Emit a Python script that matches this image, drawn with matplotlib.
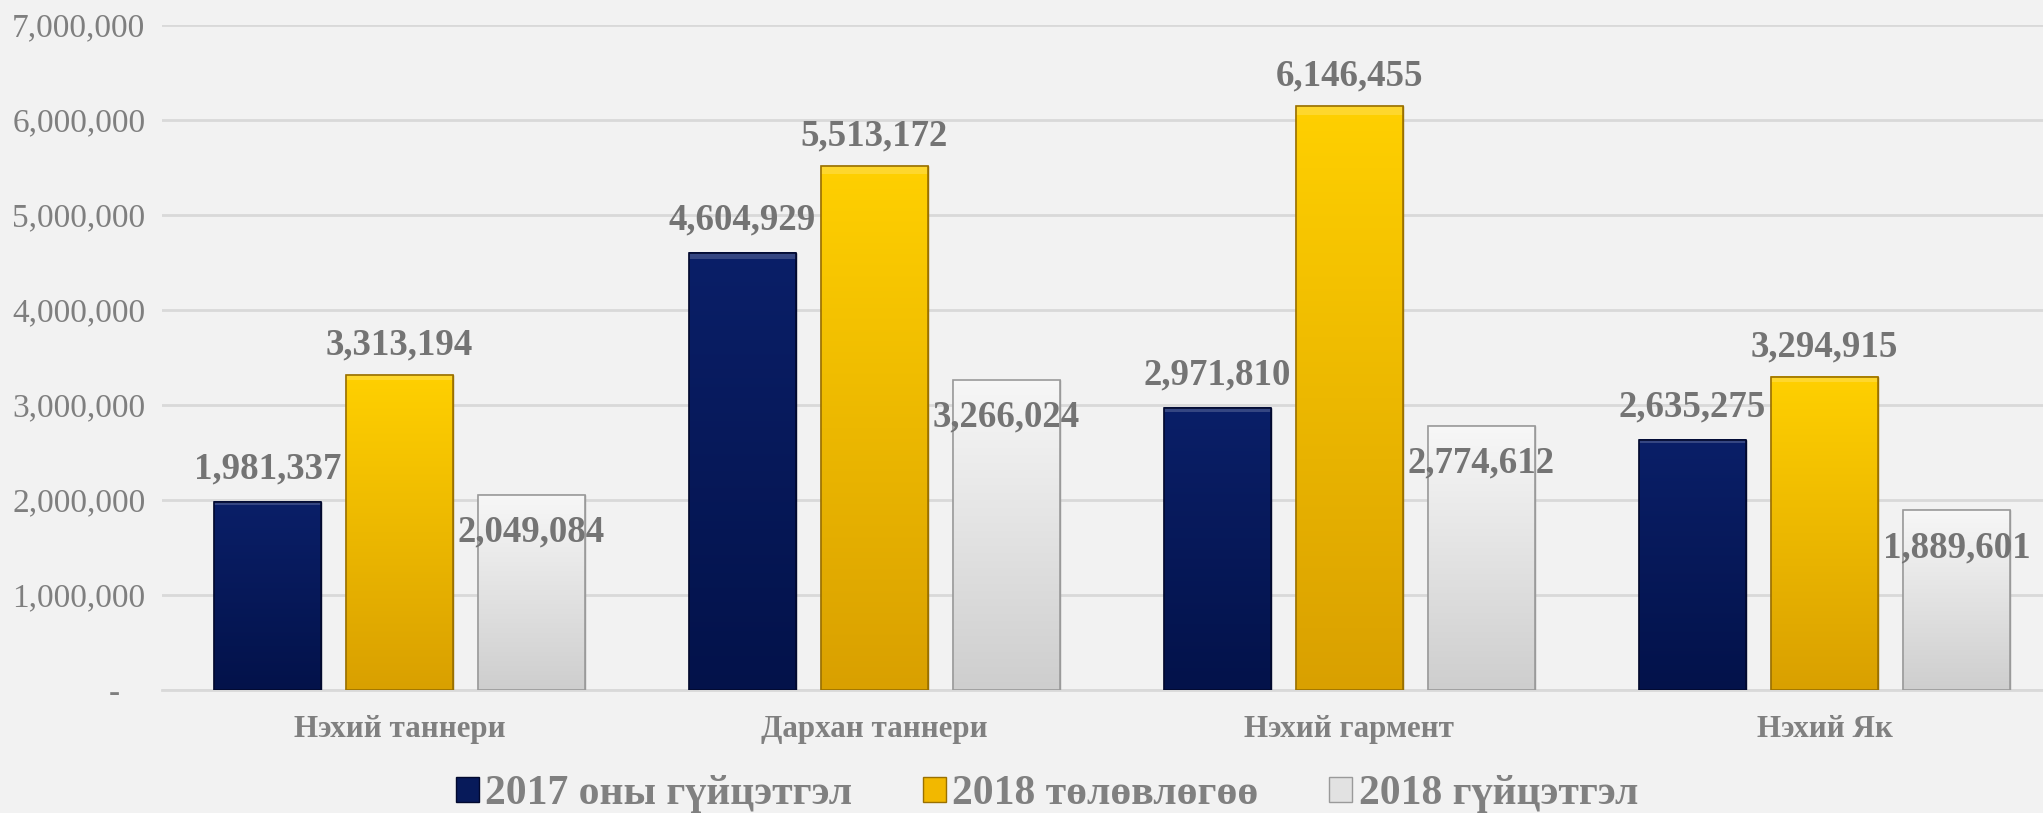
import numpy as np
import matplotlib
matplotlib.use("Agg")
import matplotlib.pyplot as plt
from matplotlib.patches import Patch
from matplotlib.colors import LinearSegmentedColormap
from matplotlib.ticker import FuncFormatter

categories = ["Нэхий таннери", "Дархан таннери", "Нэхий гармент", "Нэхий Як"]
series_names = ["2017 оны гүйцэтгэл", "2018 төлөвлөгөө", "2018 гүйцэтгэл"]
v2017 = [1981337, 4604929, 2971810, 2635275]
plan2018 = [3313194, 5513172, 6146455, 3294915]
act2018 = [2049084, 3266024, 2774612, 1889601]
yticks = [0, 1000000, 2000000, 3000000, 4000000, 5000000, 6000000, 7000000]

series = [v2017, plan2018, act2018]
top_colors = ["#0a1f68", "#ffd000", "#f7f7f7"]
bot_colors = ["#03124a", "#d9a000", "#cecece"]
face_colors = ["#071a5a", "#f2b800", "#e2e2e2"]
edge_colors = ["#02092e", "#9a7000", "#9a9a9a"]
label_offsets = [33, 30, -37]

plt.rcParams['font.family'] = ['Liberation Serif', 'DejaVu Serif']

fig = plt.figure(figsize=(20.43, 8.13), dpi=100)
fig.patch.set_facecolor("#f2f2f2")
ax = fig.add_axes([162/2043, 1-690/813, 1900/2043, 665/813])
ax.set_facecolor("#f2f2f2")

x = np.arange(len(categories))
bw = 0.225
pitch = 0.278
for i, vals in enumerate(series):
    bars = ax.bar(x + (i-1)*pitch, vals, bw, color=face_colors[i],
                  edgecolor=edge_colors[i], linewidth=1.0, zorder=3)
    cmap = LinearSegmentedColormap.from_list("g%d" % i, [bot_colors[i], top_colors[i]])
    grad = np.linspace(1, 0, 256).reshape(-1, 1)
    for b, v in zip(bars, vals):
        x0 = b.get_x(); w = b.get_width(); h = b.get_height()
        ax.imshow(grad, extent=[x0, x0+w, 0, h], aspect='auto', cmap=cmap,
                  zorder=3.5, interpolation='bilinear')
        ax.fill_between([x0, x0+w], [h*0.985, h*0.985], [h, h], color='white',
                        alpha=0.18, zorder=3.6, linewidth=0)
        ax.add_patch(plt.Rectangle((x0, 0), w, h, fill=False, edgecolor=edge_colors[i],
                                   linewidth=1.2, zorder=3.7))
        ax.annotate(f"{v:,}", (x0 + w/2, h), xytext=(0, label_offsets[i]),
                    textcoords='offset pixels', ha='center', va='center',
                    fontsize=26.6, fontweight='bold', color='#747474', zorder=5)

ax.set_xlim(-0.5, len(categories)-0.5)
ax.set_ylim(0, 7000000)
ax.set_yticks(yticks)
ax.yaxis.set_major_formatter(FuncFormatter(lambda v, p: "-   " if v == 0 else f"{int(v):,}"))
ax.grid(axis='y', color='#d9d9d9', linewidth=2, zorder=0)
ax.set_axisbelow(True)
for s in ['top', 'right', 'left']:
    ax.spines[s].set_visible(False)
ax.spines['bottom'].set_color('#d9d9d9')
ax.spines['bottom'].set_linewidth(2)
ax.tick_params(axis='y', length=0, pad=12, labelsize=24, labelcolor='#7f7f7f')
ax.tick_params(axis='x', length=0, pad=18, labelsize=22.3, labelcolor='#808080')
ax.set_xticks(x)
ax.set_xticklabels(categories, fontweight='bold')

handles = [Patch(facecolor=face_colors[i], edgecolor=edge_colors[i], label=series_names[i])
           for i in range(3)]
leg = fig.legend(handles=handles, loc='center', bbox_to_anchor=(1047/2043, 1-794/813),
                 ncol=3, frameon=False, prop={'family': 'Liberation Serif', 'weight': 'bold', 'size': 30},
                 handlelength=0.55, handleheight=0.55, handletextpad=0.15, columnspacing=1.7)
for t in leg.get_texts():
    t.set_color('#808080')

fig.savefig("out.png", dpi=100, facecolor=fig.get_facecolor())
